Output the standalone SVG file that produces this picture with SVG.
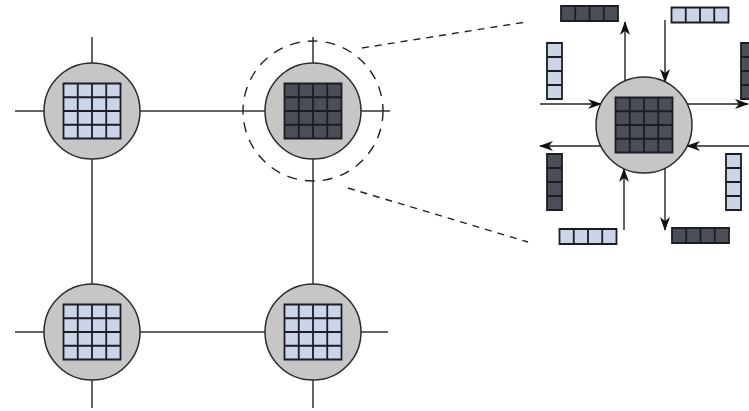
<svg xmlns="http://www.w3.org/2000/svg" xmlns:xlink="http://www.w3.org/1999/xlink" width="749" height="411" viewBox="0 0 749 411">
<style>
.node{fill:#c6c6c6;stroke:#2a2a2a;stroke-width:1.5}
.cl{fill:#ccd5e8}
.cd{fill:#4b4e55}
.gl{fill:none;stroke:#1b1d26;stroke-width:1.8}
.ln{stroke:#333;stroke-width:1.5;fill:none}
.dash{stroke:#222;stroke-width:1.4;fill:none;stroke-dasharray:7 6}
.dashc{stroke:#222;stroke-width:1.4;fill:none;stroke-dasharray:10 8}
.arr{stroke:#222;stroke-width:1.4;fill:none;marker-end:url(#ah)}
</style>
<defs>
<marker id="ah" viewBox="0 0 14 10" refX="13" refY="5" markerWidth="14" markerHeight="10" markerUnits="userSpaceOnUse" orient="auto">
<path d="M0,0 L14,5 L0,10 L4,5 Z" fill="#111"/>
</marker>
<g id="gridL"><rect width="57" height="55" class="cl"/><path d="M0,0H57V55H0ZM14.25,0V55M28.5,0V55M42.75,0V55M0,13.75H57M0,27.5H57M0,41.25H57" class="gl"/></g>
<g id="gridD"><rect width="57" height="55" class="cd"/><path d="M0,0H57V55H0ZM14.25,0V55M28.5,0V55M42.75,0V55M0,13.75H57M0,27.5H57M0,41.25H57" class="gl"/></g>
<g id="barHL"><rect width="57" height="15" class="cl"/><path d="M0,0H57V15H0ZM14.25,0V15M28.5,0V15M42.75,0V15" class="gl"/></g>
<g id="barHD"><rect width="57" height="15" class="cd"/><path d="M0,0H57V15H0ZM14.25,0V15M28.5,0V15M42.75,0V15" class="gl"/></g>
<g id="barVL"><rect width="15" height="56" class="cl"/><path d="M0,0H15V56H0ZM0,14H15M0,28H15M0,42H15" class="gl"/></g>
<g id="barVD"><rect width="15" height="56" class="cd"/><path d="M0,0H15V56H0ZM0,14H15M0,28H15M0,42H15" class="gl"/></g>
</defs>
<rect width="749" height="411" fill="#fff"/>
<g id="connectors">
<path class="ln" d="M92,37V63M15,111H44M140,111H265M313,37V63M361,111H390M92,159V284M313,159V284M15,332H44M140,332H265M361,332H388M92,380V408M313,380V408"/>
<circle class="dashc" cx="313" cy="111" r="70"/>
<path class="dash" d="M362,48L526,22"/>
<path class="dash" d="M348,188L528,242"/>
<path class="arr" d="M625,81V22"/>
<path class="arr" d="M665,20V82"/>
<path class="arr" d="M540,104H601"/>
<path class="arr" d="M687,104H748"/>
<path class="arr" d="M601,146H540"/>
<path class="arr" d="M749,146H687"/>
<path class="arr" d="M624,230V169"/>
<path class="arr" d="M665,168V230"/>
</g>
<g id="node-tl"><circle class="node" cx="92" cy="111" r="48"/><use href="#gridL" x="63.5" y="83.5"/></g>
<g id="node-tr"><circle class="node" cx="313" cy="111" r="48"/><use href="#gridD" x="284.5" y="83.5"/></g>
<g id="node-bl"><circle class="node" cx="92" cy="332" r="48"/><use href="#gridL" x="63.5" y="304.5"/></g>
<g id="node-br"><circle class="node" cx="313" cy="332" r="48"/><use href="#gridL" x="284.5" y="304.5"/></g>
<g id="node-zoom"><circle class="node" cx="644" cy="125" r="48"/><use href="#gridD" x="615.5" y="97.5"/></g>
<g id="queues">
<use href="#barHD" x="561" y="6"/>
<use href="#barHL" x="671.5" y="7.5"/>
<use href="#barVL" x="547" y="43"/>
<use href="#barVD" x="741" y="43"/>
<use href="#barVD" x="547" y="154"/>
<use href="#barVL" x="726" y="154"/>
<use href="#barHL" x="559.5" y="229"/>
<use href="#barHD" x="672" y="228"/>
</g>
</svg>
